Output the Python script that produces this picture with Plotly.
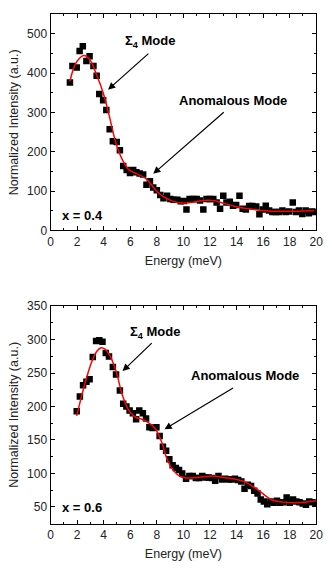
import plotly.graph_objects as go

# x = 0.4 data
e_04 = [1.46, 1.65, 1.97, 2.19, 2.43, 2.7, 2.94, 3.23, 3.47, 3.67, 3.96, 4.2, 4.45, 4.69,
        4.98, 5.22, 5.47, 5.73, 5.98, 6.22, 6.46, 6.71, 6.97, 7.22, 7.48, 7.73, 8.0, 8.26,
        8.5, 8.77, 9.02, 9.26, 9.55, 9.8, 10.04, 10.23, 10.47, 10.77, 11.0, 11.25, 11.5,
        11.74, 11.98, 12.25, 12.5, 12.76, 13.0, 13.24, 13.49, 13.73, 13.97, 14.22, 14.46,
        14.7, 14.95, 15.19, 15.48, 15.72, 15.97, 16.2, 16.45, 16.7, 16.96, 17.2, 17.45,
        17.7, 17.96, 18.23, 18.47, 18.7, 18.95, 19.2, 19.44, 19.68, 19.88]
i_04 = [376, 418, 414, 456, 468, 431, 443, 418, 393, 347, 331, 306, 257, 227,
        225, 204, 164, 154, 146, 154, 148, 145, 142, 116, 125, 109, 102, 90,
        82, 88, 80, 78, 78, 74, 75, 53, 80, 80, 80, 76, 53,
        80, 80, 80, 71, 55, 88, 71, 73, 63, 65, 88, 55,
        53, 62, 62, 61, 41, 53, 63, 51, 47, 47, 47, 51,
        47, 48, 71, 47, 51, 42, 51, 44, 48, 47]
fit_e_04 = [1.46, 1.9, 2.5, 2.94, 3.47, 3.96, 4.45, 4.93, 5.42, 5.9, 6.63, 7.24, 7.85,
            8.58, 9.55, 10.5, 11.5, 12.2, 12.95, 13.9, 14.9, 15.87, 17.1, 18.3, 20.0]
fit_i_04 = [379, 425, 445, 435, 395, 350, 287, 221, 179, 154, 142, 130, 105,
            84, 71, 71, 76, 76, 70, 61, 55, 51, 49, 49, 51]

# x = 0.6 data
e_06 = [1.97, 2.21, 2.45, 2.7, 2.94, 3.18, 3.43, 3.67, 3.91, 4.16, 4.4, 4.69, 4.93,
        5.22, 5.47, 5.71, 5.95, 6.2, 6.44, 6.68, 6.95, 7.19, 7.44, 7.68, 7.97, 8.21,
        8.46, 8.7, 8.94, 9.19, 9.43, 9.67, 9.91, 10.2, 10.45, 10.7, 10.94, 11.18,
        11.42, 11.66, 11.9, 12.15, 12.39, 12.64, 12.9, 13.15, 13.39, 13.63, 13.88,
        14.12, 14.36, 14.6, 14.85, 15.09, 15.33, 15.58, 15.82, 16.06, 16.31, 16.55,
        16.79, 17.04, 17.28, 17.52, 17.77, 18.0, 18.25, 18.5, 18.74, 18.98, 19.22,
        19.47, 19.7, 19.95]
i_06 = [193, 215, 232, 237, 241, 274, 298, 299, 297, 280, 275, 259, 248,
        224, 204, 200, 194, 190, 181, 194, 190, 182, 169, 168, 169, 156,
        140, 134, 121, 112, 108, 105, 100, 92, 96, 96, 93, 93,
        96, 94, 94, 93, 89, 96, 91, 92, 91, 91, 92,
        90, 88, 77, 83, 81, 74, 70, 61, 58, 54, 58,
        56, 59, 56, 57, 64, 56, 61, 58, 57, 55, 53,
        58, 57, 56]
fit_e_06 = [1.97, 2.5, 3.1, 3.5, 3.8, 4.1, 4.45, 4.93, 5.42, 5.9, 6.4, 6.88, 7.36,
            7.85, 8.34, 8.82, 9.3, 9.8, 10.5, 11.5, 12.23, 13.0, 13.69, 14.66, 15.63,
            16.6, 17.57, 18.54, 20.0]
fit_i_06 = [186, 228, 267, 283, 288, 286, 277, 253, 216, 194, 184, 181, 176,
            168, 148, 119, 103, 95, 93, 95, 96, 94, 92, 87, 75,
            61, 57, 56, 59]

FONT = "Liberation Sans, Arial, sans-serif"

fig = go.Figure()

for e, i, fe, fi, xa, ya in [(e_04, i_04, fit_e_04, fit_i_04, "x", "y"),
                             (e_06, i_06, fit_e_06, fit_i_06, "x2", "y2")]:
    fig.add_trace(go.Scatter(
        x=e, y=i, mode="markers", xaxis=xa, yaxis=ya, showlegend=False,
        marker={"symbol": "square", "size": 6.5, "color": "black"},
    ))
    fig.add_trace(go.Scatter(
        x=fe, y=fi, mode="lines", xaxis=xa, yaxis=ya, showlegend=False,
        line={"color": "red", "width": 1.5, "shape": "spline", "smoothing": 1.0},
    ))

axis_style = dict(
    showline=True, linecolor="black", linewidth=1, mirror="ticks",
    ticks="inside", ticklen=4, tickcolor="black", showgrid=False, zeroline=False,
    ticklabeloverflow="allow",
    tickfont={"family": FONT, "size": 12, "color": "#222"},
    title_font={"family": FONT, "size": 12.5, "color": "#222"},
)
minor_x = {"dtick": 1, "ticklen": 2, "ticks": "inside", "tickcolor": "black"}

fig.update_layout(
    width=332, height=579,
    margin={"l": 0, "r": 0, "t": 0, "b": 0},
    plot_bgcolor="white", paper_bgcolor="white",
    xaxis=dict(axis_style, domain=[0.1476, 0.9729], range=[0, 20], dtick=2, minor=minor_x,
               anchor="y", title={"text": "Energy (meV)", "standoff": 8}),
    yaxis=dict(axis_style, domain=[0.6045, 0.9874], range=[0, 550], dtick=100,
               minor={"dtick": 50, "ticklen": 2, "ticks": "inside", "tickcolor": "black"},
               anchor="x", title={"text": "Normalized Intensity (a.u.)", "standoff": 5}),
    xaxis2=dict(axis_style, domain=[0.1476, 0.9729], range=[0, 20], dtick=2, minor=minor_x,
                anchor="y2", title={"text": "Energy (meV)", "standoff": 8}),
    yaxis2=dict(axis_style, domain=[0.0858, 0.4703], range=[25, 350], dtick=50,
                minor={"dtick": 25, "ticklen": 2, "ticks": "inside", "tickcolor": "black"},
                anchor="x2", title={"text": "Normalized Intensity (a.u.)", "standoff": 5}),
)

bold = {"family": FONT, "size": 13, "color": "black"}
arrow = dict(showarrow=True, arrowhead=2, arrowsize=1.2, arrowwidth=1.2,
             arrowcolor="black", text="")

annots = [
    # top panel
    dict(x=7.5, y=480, xref="x", yref="y", text="<b>Σ<sub>4</sub> Mode</b>",
         showarrow=False, font=bold),
    dict(arrow, x=4.33, y=358, ax=7.48, ay=453, xref="x", yref="y", axref="x", ayref="y"),
    dict(x=13.7, y=331, xref="x", yref="y", text="<b>Anomalous Mode</b>",
         showarrow=False, font=bold),
    dict(arrow, x=7.73, y=144, ax=13.15, ay=304, xref="x", yref="y", axref="x", ayref="y"),
    dict(x=2.4, y=38, xref="x", yref="y", text="<b>x = 0.4</b>", showarrow=False, font=bold),
    # bottom panel
    dict(x=7.85, y=311, xref="x2", yref="y2", text="<b>Σ<sub>4</sub> Mode</b>",
         showarrow=False, font=bold),
    dict(arrow, x=5.42, y=253, ax=7.73, ay=297, xref="x2", yref="y2", axref="x2", ayref="y2"),
    dict(x=14.65, y=247, xref="x2", yref="y2", text="<b>Anomalous Mode</b>",
         showarrow=False, font=bold),
    dict(arrow, x=8.58, y=166, ax=13.85, ay=229, xref="x2", yref="y2", axref="x2", ayref="y2"),
    dict(x=2.4, y=48.6, xref="x2", yref="y2", text="<b>x = 0.6</b>", showarrow=False, font=bold),
]
fig.update_layout(annotations=annots)

# page body has a default 8px margin; remove it so the figure sits at the window origin
fig.write_html("out.html", config={"displayModeBar": False},
               post_script="document.body.style.margin='0';")
